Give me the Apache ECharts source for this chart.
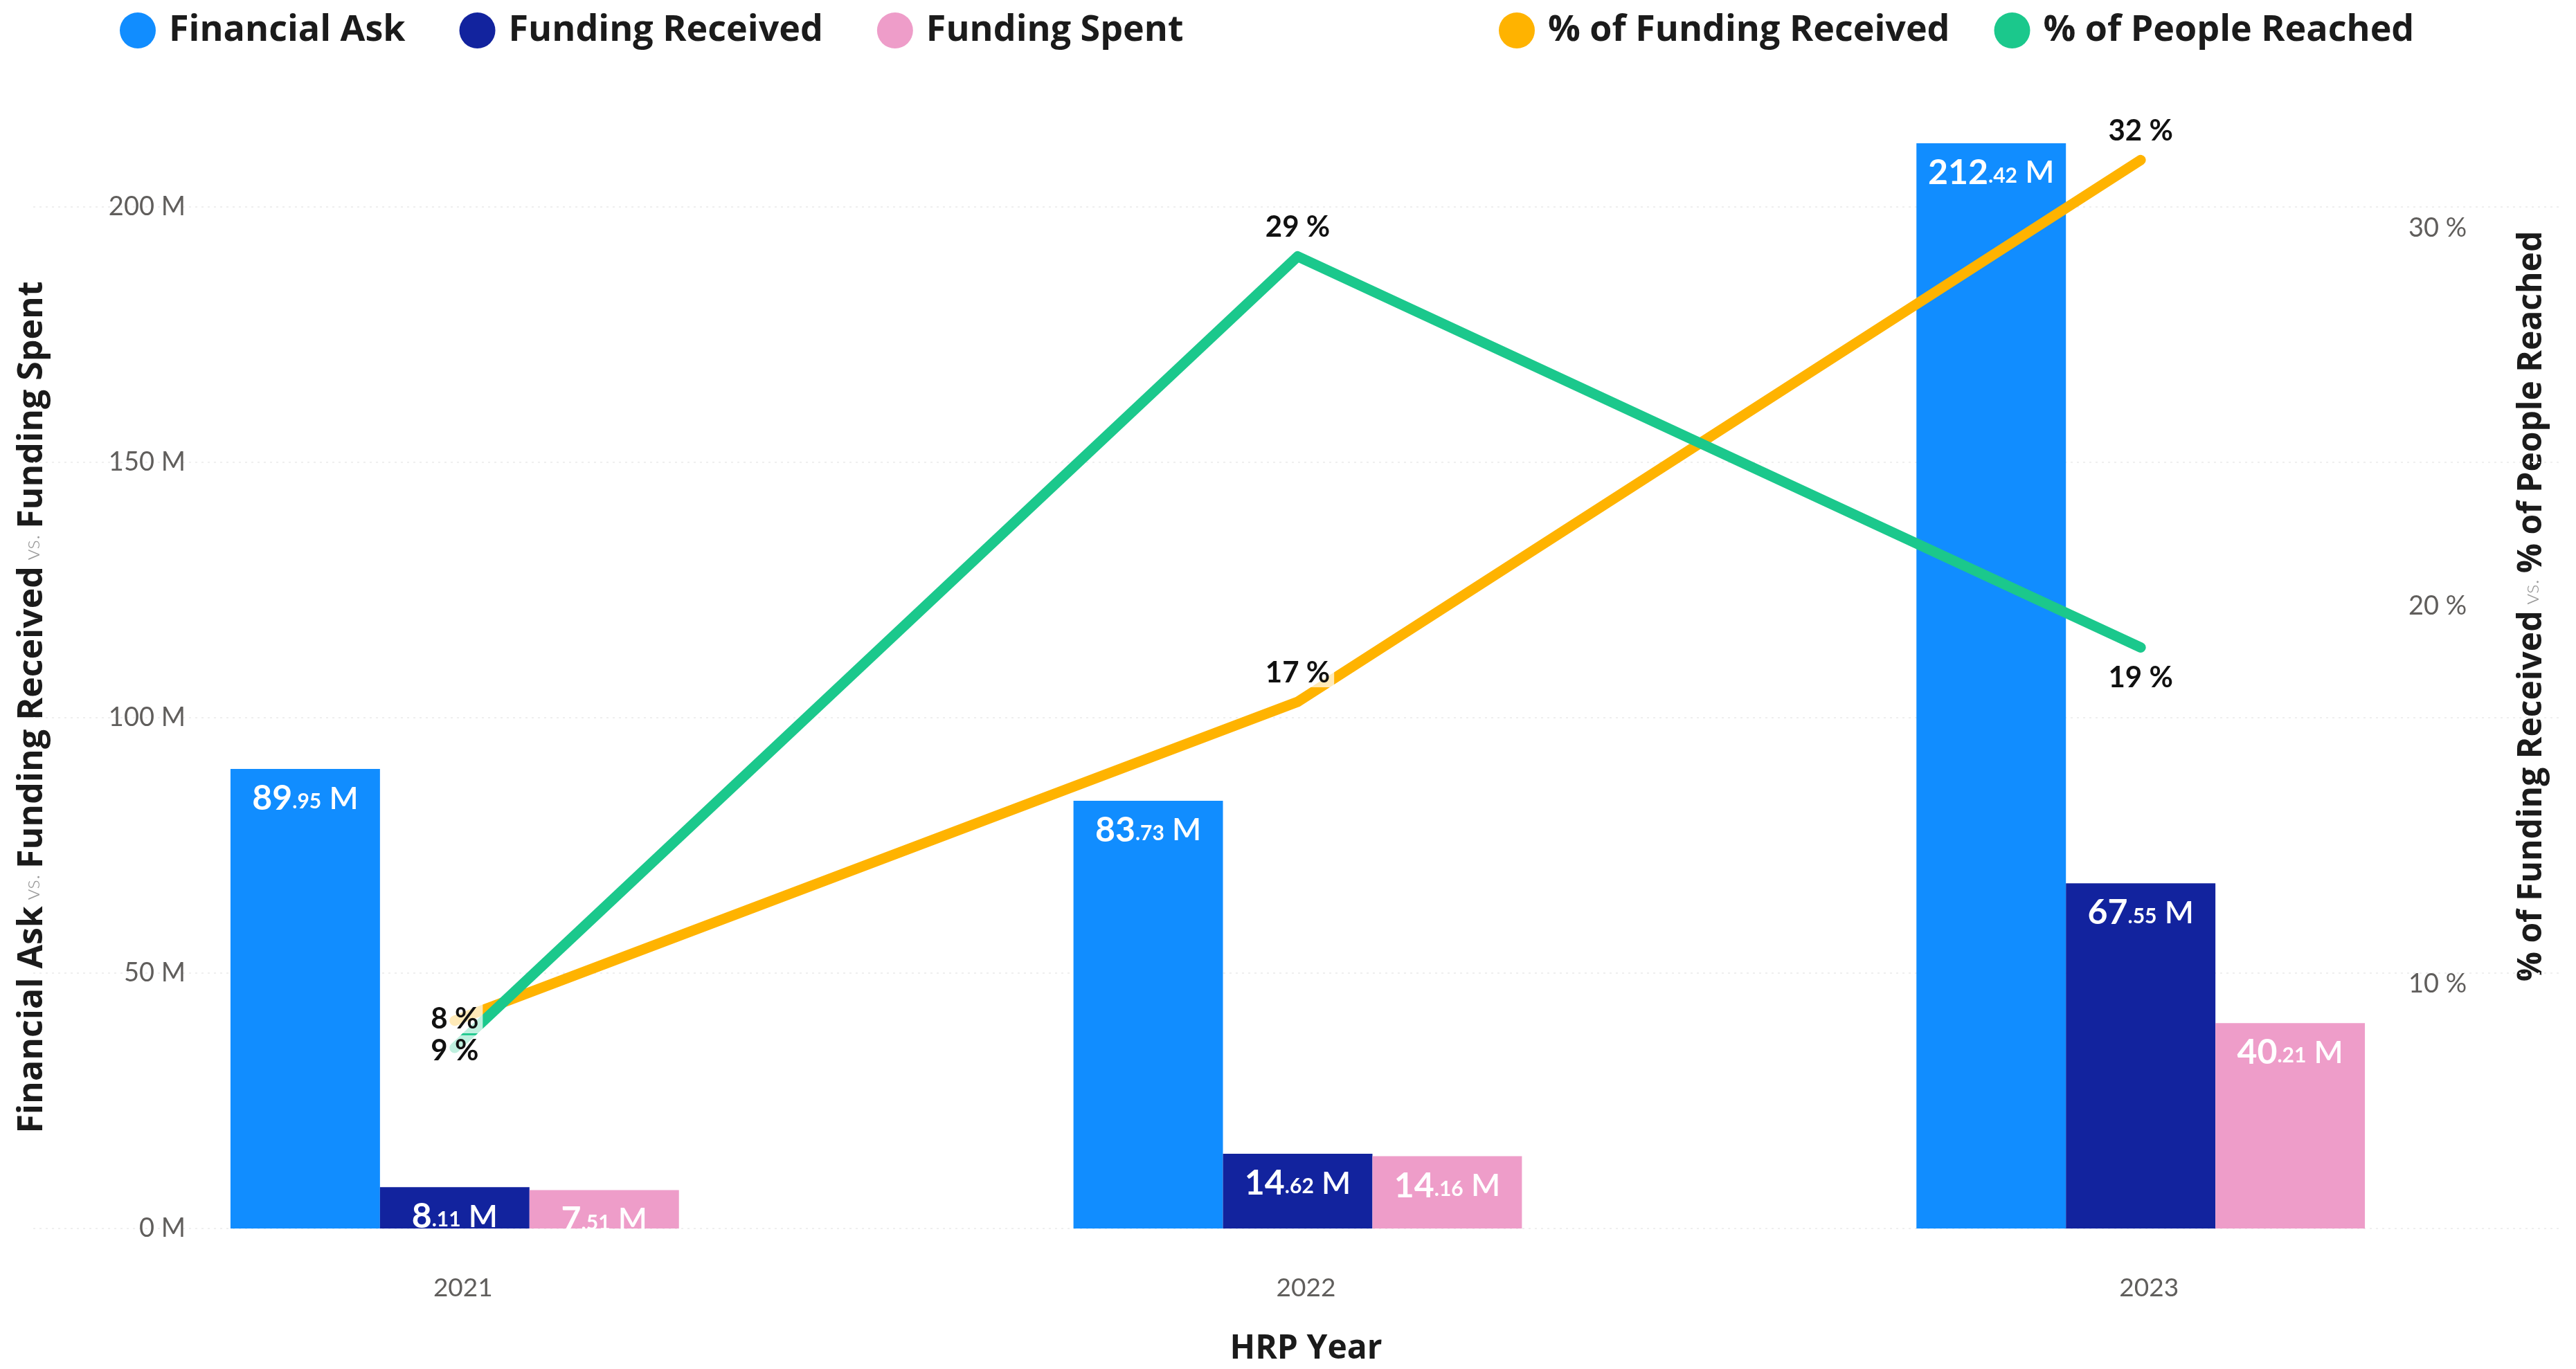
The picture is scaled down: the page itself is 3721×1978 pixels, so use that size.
<!DOCTYPE html>
<html><head><meta charset="utf-8">
<script src="https://cdn.jsdelivr.net/npm/echarts@6/dist/echarts.min.js"></script>
<style>html,body{margin:0;padding:0;background:#fff}#c{width:3721px;height:1978px}</style>
</head><body><div id="c"></div>
<script>
// ---- data ----
const years = ['2021', '2022', '2023'];
const financialAsk = [89.95, 83.73, 212.42];
const fundingReceived = [8.11, 14.62, 67.55];
const fundingSpent = [7.51, 14.16, 40.21];
const pctFundingReceived = [9.02, 17.46, 31.8];
const pctPeopleReached = [8.3, 29.25, 18.9];
const leftTicks = [0, 50, 100, 150, 200];
const rightTicks = [10, 20, 30];

// ---- layout config (not data) ----
const leftMax = 220;
const rightMin = 3.52, rightMax = 33.27;
const orangeLabelPos = ['bottom', 'top', 'top'];
const greenLabelPos = ['top', 'top', 'bottom'];

const FONT = 'Lato, "Noto Sans", sans-serif';
const HEAD = '"Open Sans", Lato, sans-serif';
const C_ASK = '#118DFF', C_REC = '#12239E', C_SPENT = '#EE9DC9', C_ORANGE = '#FFB300', C_GREEN = '#1BC88C';

function barLabel(p) {
  const s = Number(p.value).toFixed(2).split('.');
  return '{i|' + s[0] + '}{d|.' + s[1] + '}{m| M}';
}
const barRich = {
  i: {fontFamily: FONT, fontSize: 50, fontWeight: 'bold', color: '#fff'},
  d: {fontFamily: FONT, fontSize: 30, fontWeight: 'bold', color: '#fff', padding: [9, 0, 0, 0]},
  m: {fontFamily: FONT, fontSize: 45, fontWeight: 600, color: '#fff'}
};
function barSeries(name, data, color) {
  return {
    name, type: 'bar', data, yAxisIndex: 0, barGap: '0%', barCategoryGap: '46.8%',
    itemStyle: {color},
    label: {show: true, position: 'insideTop', distance: 18, formatter: barLabel, rich: barRich},
    z: 2
  };
}
function lineSeries(name, data, color, positions) {
  return {
    name, type: 'line', yAxisIndex: 1, symbol: 'circle', symbolSize: 2,
    itemStyle: {color}, lineStyle: {color, width: 15, cap: 'round', join: 'round'},
    data: data.map((v, i) => ({value: v, label: {position: positions[i]}})),
    label: {
      show: true, distance: 20, formatter: p => Math.round(p.value) + ' %',
      fontFamily: FONT, fontSize: 42, fontWeight: 'bold', color: '#111',
      backgroundColor: 'rgba(255,255,255,0.72)', padding: [2, 6, 0, 6]
    },
    z: 5
  };
}

const legendText = {fontFamily: HEAD, fontSize: 52, fontWeight: 'bold', color: '#1b1b1b', padding: [0, 0, 0, 14]};
const titleRich = (size) => ({
  b: {fontFamily: HEAD, fontSize: size, fontWeight: 'bold', fill: '#1b1b1b', color: '#1b1b1b'},
  v: {fontFamily: FONT, fontSize: 32, fontWeight: 300, fill: '#9a9a9a', color: '#9a9a9a'}
});

const chart = echarts.init(document.getElementById('c'), null, {renderer: 'canvas'});
chart.setOption({
  backgroundColor: '#ffffff',
  animation: false,
  textStyle: {fontFamily: FONT},
  legend: [
    {
      data: ['Financial Ask', 'Funding Received', 'Funding Spent'],
      left: 168, top: 13, icon: 'circle', itemWidth: 52, itemHeight: 52, itemGap: 78,
      textStyle: legendText
    },
    {
      data: ['% of Funding Received', '% of People Reached'],
      left: 2160, top: 13, icon: 'circle', itemWidth: 52, itemHeight: 52, itemGap: 64,
      textStyle: legendText
    }
  ],
  grid: {left: 48, right: 20, top: 151, bottom: 201, containLabel: false},
  xAxis: {
    type: 'category', data: years,
    axisLine: {show: false}, axisTick: {show: false},
    axisLabel: {fontFamily: FONT, fontSize: 37, color: '#605E5C', margin: 68, padding: [0, 0, 0, 24]},
    name: 'HRP Year', nameLocation: 'middle', nameGap: 150,
    nameTextStyle: {fontFamily: HEAD, fontSize: 48, fontWeight: 'bold', color: '#1b1b1b', padding: [0, 0, 0, 24]}
  },
  yAxis: [
    {
      type: 'value', min: 0, max: leftMax, interval: 50,
      axisLine: {show: false},
      axisTick: {show: false, customValues: leftTicks},
      axisLabel: {
        inside: true, margin: 220, align: 'right',
        customValues: leftTicks,
        fontFamily: FONT, fontSize: 38, color: '#605E5C',
        formatter: v => v + ' M'
      },
      splitLine: {show: true, lineStyle: {color: '#efefef', width: 2, type: [3, 6]}}
    },
    {
      type: 'value', min: rightMin, max: rightMax,
      axisLine: {show: false}, axisTick: {show: false},
      axisLabel: {
        inside: true, margin: 222, align: 'left',
        customValues: rightTicks,
        fontFamily: FONT, fontSize: 38, color: '#605E5C',
        formatter: v => v + ' %'
      },
      splitLine: {show: false}
    }
  ],
  graphic: [
    {
      type: 'text', x: 47, y: 1022, rotation: Math.PI / 2,
      style: {
        text: '{b|Financial Ask}{v| vs. }{b|Funding Received}{v| vs. }{b|Funding Spent}',
        align: 'center', verticalAlign: 'middle',
        rich: titleRich(50)
      }
    },
    {
      type: 'text', x: 3657, y: 876, rotation: Math.PI / 2,
      style: {
        text: '{b|% of Funding Received}{v| vs. }{b|% of People Reached}',
        align: 'center', verticalAlign: 'middle',
        rich: titleRich(48)
      }
    }
  ],
  series: [
    barSeries('Financial Ask', financialAsk, C_ASK),
    barSeries('Funding Received', fundingReceived, C_REC),
    barSeries('Funding Spent', fundingSpent, C_SPENT),
    lineSeries('% of Funding Received', pctFundingReceived, C_ORANGE, orangeLabelPos),
    lineSeries('% of People Reached', pctPeopleReached, C_GREEN, greenLabelPos)
  ]
});
</script>
</body></html>
